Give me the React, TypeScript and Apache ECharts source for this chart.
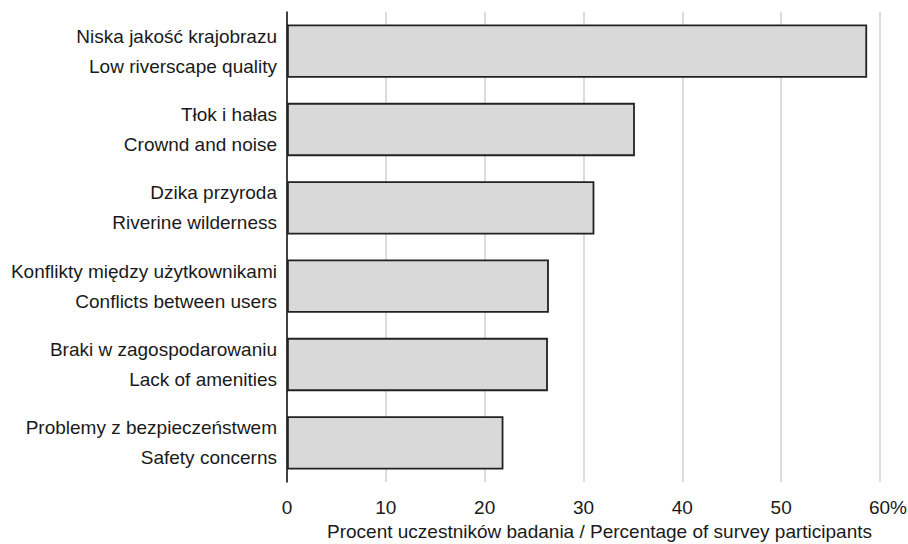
import React, { useEffect, useRef } from "react";
import * as echarts from "echarts";

const categoriesPl = [
  "Niska jakość krajobrazu",
  "Tłok i hałas",
  "Dzika przyroda",
  "Konflikty między użytkownikami",
  "Braki w zagospodarowaniu",
  "Problemy z bezpieczeństwem",
];
const categoriesEn = [
  "Low riverscape quality",
  "Crownd and noise",
  "Riverine wilderness",
  "Conflicts between users",
  "Lack of amenities",
  "Safety concerns",
];
const values = [58.7, 35.2, 31.1, 26.5, 26.4, 21.9];
const xTicks = [0, 10, 20, 30, 40, 50, 60];
const axisTitle = "Procent uczestników badania / Percentage of survey participants";

const FONT = "'Liberation Sans', Arial, sans-serif";

export default function App() {
  const ref = useRef<HTMLDivElement>(null);
  useEffect(() => {
    if (!ref.current) return;
    const chart = echarts.init(ref.current, undefined, { renderer: "svg" });
    const cats = categoriesPl.map((p, i) => p + "\n" + categoriesEn[i]);
    chart.setOption({
      animation: false,
      backgroundColor: "#ffffff",
      grid: {
        left: 287,
        right: 28,
        top: 12,
        bottom: 62,
        containLabel: false,
        outerBoundsMode: "none",
      },
      xAxis: {
        type: "value",
        min: xTicks[0],
        max: xTicks[xTicks.length - 1],
        interval: 10,
        axisLine: { show: false },
        axisTick: { show: false },
        splitLine: { show: true, lineStyle: { color: "#d0d0d0", width: 1.5 } },
        axisLabel: {
          color: "#1a1a1a",
          fontFamily: FONT,
          fontSize: 19,
          margin: 16,
          formatter: (v: number) => (v === 60 ? "{p|60%}" : String(v)),
          rich: {
            p: { fontFamily: FONT, fontSize: 19, color: "#1a1a1a", padding: [0, 0, 0, 16] },
          },
        },
        name: axisTitle,
        nameLocation: "middle",
        nameGap: 40,
        nameTextStyle: {
          color: "#1a1a1a",
          fontFamily: FONT,
          fontSize: 19,
          padding: [0, 0, 0, 32],
        },
      },
      yAxis: {
        type: "category",
        inverse: true,
        data: cats,
        axisLine: { show: true, lineStyle: { color: "#1a1a1a", width: 1.6 } },
        axisTick: { show: false },
        splitLine: { show: false },
        axisLabel: {
          color: "#1a1a1a",
          fontFamily: FONT,
          fontSize: 19,
          lineHeight: 30,
          margin: 10,
          align: "right",
        },
      },
      series: [
        {
          type: "bar",
          data: values,
          barCategoryGap: "32%",
          itemStyle: { color: "#d9d9d9", borderColor: "#222222", borderWidth: 1.8 },
        },
      ],
    });
    return () => chart.dispose();
  }, []);
  return (
    <div
      ref={ref}
      style={{ position: "fixed", left: 0, top: 0, width: 908, height: 544 }}
    />
  );
}
